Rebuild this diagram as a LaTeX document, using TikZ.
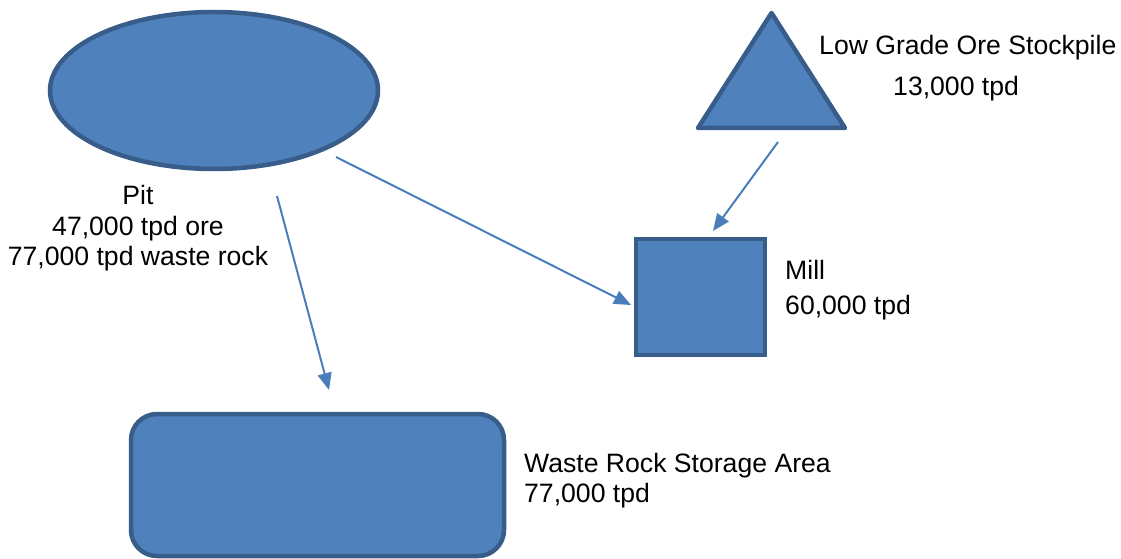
\documentclass[tikz,border=0pt]{standalone}
\usepackage{fontspec}
\setmainfont{Liberation Sans}
\usetikzlibrary{arrows.meta,shapes.geometric}
\definecolor{shapefill}{HTML}{4F81BD}
\definecolor{shapeline}{HTML}{385D8A}
\definecolor{flowline}{HTML}{4A7EBB}

\begin{document}
\begin{tikzpicture}[x=1pt,y=-1pt,>={Triangle[length=17pt,width=14pt]}]
    \tikzstyle{area}=[draw=shapeline,fill=shapefill,line width=4.5pt,inner sep=0pt,outer sep=0pt]
    \tikzstyle{flow}=[->,draw=flowline,fill=flowline,line width=2pt]
    \tikzstyle{note}=[inner sep=0pt,font=\fontsize{26.6}{30.5}\selectfont]

    \useasboundingbox (0,0) rectangle (1121,559);

    \node[area,ellipse,minimum width=328pt,minimum height=157pt] (pit) at (214,90.5) {};
    \node[area,isosceles triangle,isosceles triangle stretches,shape border rotate=90,
          minimum width=147pt,minimum height=115pt,line join=round,anchor=south] (stock) at (771.5,128) {};
    \node[area,rectangle,minimum width=129pt,minimum height=116pt] (mill) at (700.5,297) {};
    \node[area,rectangle,rounded corners=26pt,minimum width=373pt,minimum height=142pt] (waste) at (317.5,485) {};

    \node[note,align=center,anchor=north] (pit label) at (138,185.3)
        {Pit\\47,000 tpd ore\\77,000 tpd waste rock};
    \node[note,anchor=base west] (stock label) at (819,55) {Low Grade Ore Stockpile};
    \node[note,anchor=base west] (stock rate) at (893,96) {13,000 tpd};
    \node[note,align=left,anchor=north west,font=\fontsize{26.6}{35}\selectfont] (mill label) at (785,260)
        {Mill\\60,000 tpd};
    \node[note,align=left,anchor=north west] (waste label) at (524,452.7)
        {Waste Rock Storage Area\\77,000 tpd};

    % free ends of the flows
    \coordinate (pit out ore) at (336,157);
    \coordinate (pit out rock) at (277,196);
    \coordinate (stock out) at (778,142);
    \coordinate (mill in left) at (631,305);
    \coordinate (mill in top) at (713,231);
    \coordinate (waste in) at (329,390);

    \draw[flow] (pit out ore) -- (mill in left);
    \draw[flow] (pit out rock) -- (waste in);
    \draw[flow] (stock out) -- (mill in top);

\end{tikzpicture}
\end{document}
